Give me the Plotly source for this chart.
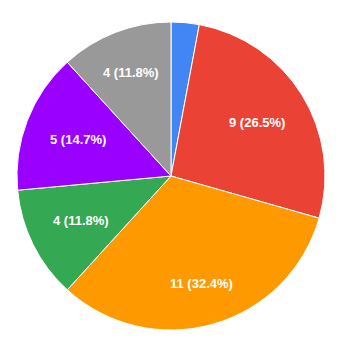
import math
import plotly.graph_objects as go

labels = ["A", "B", "C", "D", "E", "F"]
values = [1, 9, 11, 4, 5, 4]
colors = ["#4285f4", "#ea4335", "#ff9900", "#34a853", "#9900ff", "#999999"]
show_text = [False, True, True, True, True, True]

W, H = 343, 353
cx, cy, r = 171, 176, 154
font_size = 13
char_w = 6.8
corner_r = 0.85 * r

fig = go.Figure(go.Pie(
    labels=labels,
    values=values,
    sort=False,
    direction="clockwise",
    rotation=0,
    marker=dict(colors=colors, line=dict(color="white", width=1)),
    textinfo="none",
    hoverinfo="none",
    domain=dict(x=[(cx - r) / W, (cx + r) / W], y=[1 - (cy + r) / H, 1 - (cy - r) / H]),
))

total = sum(values)
cum = 0
annotations = []
for v, s in zip(values, show_text):
    mid = (cum + v / 2) / total * 2 * math.pi
    cum += v
    if not s:
        continue
    txt = f"{v} ({v / total * 100:.1f}%)"
    ux, uy = math.sin(mid), -math.cos(mid)  # screen coords (y down)
    hw, hh = len(txt) * char_w / 2, font_size / 2
    b = abs(ux) * hw + abs(uy) * hh
    c = hw * hw + hh * hh - corner_r * corner_r
    d = -b + math.sqrt(b * b - c)
    px, py = cx + d * ux, cy + d * uy
    annotations.append(dict(
        x=px / W, y=1 - py / H, xref="paper", yref="paper",
        text=f"<b>{txt}</b>", showarrow=False,
        xanchor="center", yanchor="middle",
        font=dict(family="Liberation Sans, Arial, sans-serif", size=font_size, color="white"),
    ))

fig.update_layout(
    width=W, height=H,
    margin=dict(l=0, r=0, t=0, b=0),
    showlegend=False,
    paper_bgcolor="white",
    annotations=annotations,
)
fig.write_html("out.html")
